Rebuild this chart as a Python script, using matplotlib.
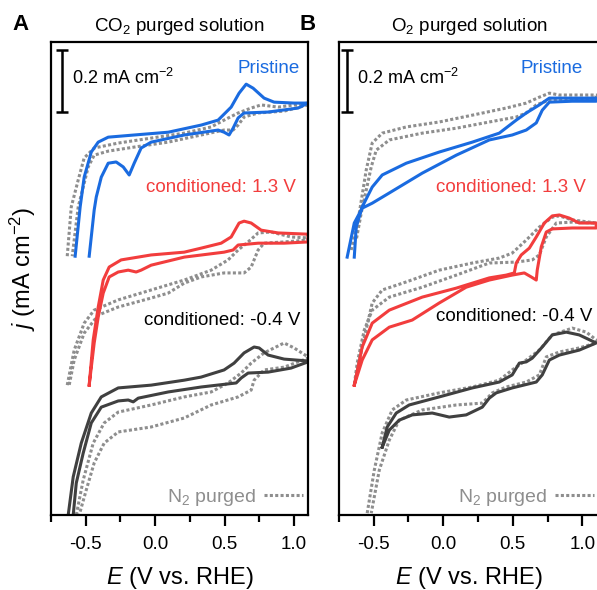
import matplotlib
matplotlib.use('Agg')
import matplotlib.pyplot as plt
from matplotlib.lines import Line2D

plt.rcParams['font.family'] = ['Liberation Sans', 'DejaVu Sans']
plt.rcParams['mathtext.fontset'] = 'custom'
plt.rcParams['mathtext.rm'] = 'Liberation Sans'
plt.rcParams['mathtext.it'] = 'Liberation Sans:italic'
plt.rcParams['axes.unicode_minus'] = False

# CV loops, potential E (V vs. RHE) and stacked current j (mA cm-2)
# panel A: CO2 purged
a_pristine_E = [-0.576, -0.540, -0.511, -0.460, -0.410, -0.338, -0.151, 0.094, 0.331, 0.453, 0.547, 0.604, 0.655, 0.705, 0.784, 0.856, 1.0, 1.1,
                1.1, 1.029, 0.813, 0.640, 0.597, 0.561, 0.532, 0.496, 0.453, 0.209, -0.029, -0.101, -0.151, -0.187, -0.230, -0.281, -0.338, -0.388, -0.424, -0.439, -0.475]
a_pristine_j = [0.835, 0.994, 1.090, 1.171, 1.203, 1.219, 1.226, 1.235, 1.258, 1.274, 1.316, 1.361, 1.390, 1.377, 1.345, 1.332, 1.329, 1.329,
                1.329, 1.313, 1.300, 1.297, 1.281, 1.248, 1.226, 1.235, 1.242, 1.226, 1.203, 1.184, 1.135, 1.097, 1.123, 1.139, 1.135, 1.090, 1.026, 0.984, 0.835]
a_pristine_n2_E = [-0.633, -0.604, -0.554, -0.511, -0.439, -0.266, -0.029, 0.209, 0.403, 0.496, 0.597, 0.691, 0.763, 0.885, 1.1,
                   1.1, 0.928, 0.741, 0.640, 0.597, 0.561, 0.496, 0.331, 0.094, -0.151, -0.338, -0.439, -0.482, -0.518, -0.554, -0.597]
a_pristine_n2_j = [0.835, 0.994, 1.081, 1.152, 1.184, 1.200, 1.216, 1.232, 1.252, 1.274, 1.297, 1.313, 1.323, 1.316, 1.329,
                   1.323, 1.303, 1.297, 1.284, 1.258, 1.242, 1.242, 1.226, 1.203, 1.187, 1.174, 1.161, 1.123, 1.058, 0.994, 0.835]

a_ox_E = [-0.475, -0.446, -0.410, -0.374, -0.331, -0.245, -0.029, 0.209, 0.331, 0.475, 0.547, 0.604, 0.640, 0.691, 0.763, 0.885, 1.1,
          1.1, 0.928, 0.741, 0.597, 0.561, 0.496, 0.209, -0.029, -0.101, -0.137, -0.194, -0.266, -0.331, -0.374, -0.410, -0.439, -0.475]
a_ox_j = [0.419, 0.565, 0.671, 0.758, 0.800, 0.823, 0.839, 0.848, 0.861, 0.877, 0.897, 0.942, 0.948, 0.942, 0.919, 0.910, 0.906,
          0.881, 0.877, 0.877, 0.871, 0.855, 0.848, 0.832, 0.806, 0.790, 0.784, 0.790, 0.784, 0.768, 0.716, 0.639, 0.555, 0.419]
a_ox_n2_E = [-0.633, -0.583, -0.511, -0.439, -0.266, -0.029, 0.209, 0.403, 0.525, 0.597, 0.669, 0.741, 0.835, 0.978, 1.1,
             1.1, 0.928, 0.784, 0.741, 0.691, 0.640, 0.496, 0.331, 0.209, 0.094, -0.029, -0.266, -0.410, -0.511, -0.583, -0.619]
a_ox_n2_j = [0.419, 0.532, 0.619, 0.661, 0.694, 0.726, 0.758, 0.790, 0.823, 0.855, 0.881, 0.910, 0.913, 0.897, 0.894,
             0.887, 0.881, 0.877, 0.855, 0.800, 0.781, 0.781, 0.768, 0.748, 0.716, 0.700, 0.671, 0.645, 0.587, 0.500, 0.419]

a_red_E = [-0.626, -0.590, -0.532, -0.460, -0.388, -0.266, -0.029, 0.209, 0.331, 0.496, 0.568, 0.640, 0.712, 0.748, 0.813, 0.928, 1.1,
           1.1, 0.978, 0.813, 0.669, 0.619, 0.583, 0.331, 0.094, -0.122, -0.158, -0.194, -0.266, -0.388, -0.460, -0.518, -0.568, -0.590]
a_red_j = [0.0, 0.123, 0.232, 0.329, 0.381, 0.410, 0.419, 0.435, 0.445, 0.468, 0.490, 0.523, 0.542, 0.539, 0.516, 0.503, 0.497,
           0.494, 0.474, 0.461, 0.458, 0.442, 0.426, 0.413, 0.397, 0.377, 0.365, 0.371, 0.368, 0.348, 0.297, 0.200, 0.103, 0.0]
a_red_n2_E = [-0.568, -0.518, -0.446, -0.367, -0.266, -0.029, 0.209, 0.403, 0.525, 0.619, 0.691, 0.784, 0.928, 1.0, 1.1,
              1.1, 0.928, 0.784, 0.712, 0.691, 0.597, 0.403, 0.209, -0.029, -0.266, -0.367, -0.439, -0.496, -0.547]
a_red_n2_j = [0.0, 0.113, 0.232, 0.297, 0.332, 0.355, 0.381, 0.397, 0.426, 0.458, 0.490, 0.523, 0.555, 0.539, 0.510,
              0.506, 0.477, 0.468, 0.435, 0.403, 0.381, 0.355, 0.313, 0.284, 0.268, 0.232, 0.168, 0.081, 0.0]

# panel B: O2 purged
b_pristine_E = [-0.640, -0.626, -0.583, -0.511, -0.439, -0.266, -0.029, 0.209, 0.403, 0.525, 0.597, 0.691, 0.763, 0.928, 1.1,
                1.1, 0.928, 0.763, 0.712, 0.669, 0.597, 0.496, 0.331, 0.094, -0.151, -0.388, -0.511, -0.583, -0.640, -0.691]
b_pristine_j = [0.832, 0.929, 0.994, 1.058, 1.097, 1.135, 1.171, 1.203, 1.232, 1.274, 1.297, 1.323, 1.345, 1.345, 1.345,
                1.335, 1.335, 1.332, 1.306, 1.265, 1.242, 1.226, 1.210, 1.161, 1.103, 1.039, 1.006, 0.990, 0.942, 0.832]
b_pristine_n2_E = [-0.662, -0.604, -0.554, -0.511, -0.439, -0.266, -0.029, 0.209, 0.453, 0.597, 0.691, 0.763, 0.835, 1.1,
                   1.1, 0.928, 0.763, 0.669, 0.597, 0.525, 0.331, 0.094, -0.151, -0.388, -0.482, -0.518, -0.554, -0.590, -0.626]
b_pristine_n2_j = [0.855, 0.974, 1.113, 1.200, 1.232, 1.252, 1.268, 1.290, 1.313, 1.329, 1.348, 1.361, 1.355, 1.355,
                   1.345, 1.342, 1.339, 1.323, 1.297, 1.284, 1.268, 1.248, 1.232, 1.210, 1.177, 1.123, 1.048, 0.974, 0.887]

b_ox_E = [-0.640, -0.583, -0.511, -0.388, -0.151, 0.094, 0.209, 0.331, 0.453, 0.511, 0.525, 0.561, 0.619, 0.669, 0.727, 0.784, 0.835, 0.906, 0.978, 1.1,
          1.1, 0.928, 0.784, 0.741, 0.705, 0.676, 0.669, 0.633, 0.583, 0.496, 0.331, 0.165, -0.029, -0.223, -0.388, -0.511, -0.583, -0.640]
b_ox_j = [0.419, 0.542, 0.619, 0.661, 0.703, 0.732, 0.748, 0.765, 0.774, 0.781, 0.813, 0.839, 0.861, 0.897, 0.942, 0.965, 0.968, 0.958, 0.942, 0.942,
          0.926, 0.926, 0.923, 0.913, 0.865, 0.790, 0.758, 0.768, 0.781, 0.774, 0.758, 0.735, 0.684, 0.629, 0.606, 0.565, 0.500, 0.419]
b_ox_n2_E = [-0.640, -0.583, -0.511, -0.439, -0.266, -0.029, 0.209, 0.403, 0.496, 0.597, 0.691, 0.784, 0.835, 0.928, 1.1,
             1.1, 0.928, 0.813, 0.741, 0.691, 0.640, 0.525, 0.331, 0.094, -0.151, -0.388, -0.511, -0.568, -0.619, -0.640]
b_ox_n2_j = [0.419, 0.542, 0.684, 0.726, 0.752, 0.790, 0.813, 0.829, 0.845, 0.887, 0.929, 0.961, 0.965, 0.952, 0.942,
             0.942, 0.945, 0.942, 0.897, 0.839, 0.823, 0.816, 0.813, 0.774, 0.735, 0.703, 0.661, 0.597, 0.490, 0.419]

b_red_E = [-0.439, -0.403, -0.338, -0.245, -0.029, 0.209, 0.403, 0.496, 0.547, 0.597, 0.640, 0.712, 0.784, 0.885, 0.978, 1.1,
           1.1, 0.978, 0.835, 0.763, 0.712, 0.669, 0.496, 0.381, 0.331, 0.281, 0.165, 0.043, -0.079, -0.223, -0.317, -0.388, -0.439]
b_red_j = [0.219, 0.284, 0.329, 0.355, 0.381, 0.410, 0.429, 0.452, 0.490, 0.494, 0.506, 0.542, 0.581, 0.590, 0.581, 0.555,
           0.555, 0.532, 0.516, 0.500, 0.452, 0.429, 0.410, 0.394, 0.377, 0.348, 0.323, 0.316, 0.329, 0.323, 0.306, 0.274, 0.219]
b_red_n2_E = [-0.547, -0.496, -0.439, -0.367, -0.266, -0.029, 0.209, 0.403, 0.496, 0.597, 0.691, 0.784, 0.928, 1.029, 1.1,
              1.1, 0.978, 0.835, 0.741, 0.691, 0.597, 0.453, 0.353, 0.281, 0.094, -0.151, -0.317, -0.388, -0.460, -0.518]
b_red_n2_j = [0.006, 0.145, 0.265, 0.339, 0.371, 0.394, 0.413, 0.435, 0.468, 0.500, 0.532, 0.581, 0.603, 0.590, 0.565,
              0.555, 0.539, 0.526, 0.510, 0.452, 0.429, 0.413, 0.394, 0.361, 0.355, 0.339, 0.306, 0.242, 0.145, 0.006]

blue = '#1a6be0'
red = '#f23d3d'
dark = '#404040'
grey = '#8e8e8e'
dots = (0, (1.0, 0.75))
fs = 13.5
lw = 2.2

fig = plt.figure(figsize=(5.97, 5.90), dpi=100)
ax_a = fig.add_axes([0.0854, 0.1271, 0.4305, 0.8017])
ax_b = fig.add_axes([0.5678, 0.1271, 0.4355, 0.8017])

panels = [
    (ax_a, 'A', 'CO$_2$ purged solution',
     [(a_pristine_n2_E, a_pristine_n2_j, a_pristine_E, a_pristine_j, blue),
      (a_ox_n2_E, a_ox_n2_j, a_ox_E, a_ox_j, red),
      (a_red_n2_E, a_red_n2_j, a_red_E, a_red_j, dark)],
     (-0.75, 1.1), [(1.043, 1.439), (1.014, 1.058), (1.043, 0.626)], -0.669),
    (ax_b, 'B', 'O$_2$ purged solution',
     [(b_pristine_n2_E, b_pristine_n2_j, b_pristine_E, b_pristine_j, blue),
      (b_ox_n2_E, b_ox_n2_j, b_ox_E, b_ox_j, red),
      (b_red_n2_E, b_red_n2_j, b_red_E, b_red_j, dark)],
     (-0.75, 1.12), [(1.0, 1.439), (1.029, 1.058), (1.072, 0.639)], -0.691),
]

labels = ['Pristine', 'conditioned: 1.3 V', 'conditioned: -0.4 V']
label_colors = [blue, red, 'black']

for ax, letter, title, curves, xlim, label_pos, bar_x in panels:
    for n2_E, n2_j, E, j, color in curves:
        ax.plot(n2_E, n2_j, color=grey, lw=lw, linestyle=dots)
        ax.plot(E, j, color=color, lw=lw, solid_joinstyle='round')

    for text, color, (x, y) in zip(labels, label_colors, label_pos):
        ax.text(x, y, text, color=color, fontsize=fs, ha='right', va='center')

    # 0.2 mA cm-2 scale bar
    ax.errorbar([bar_x], [1.4], yerr=0.1, color='black', elinewidth=1.8,
                capsize=4, capthick=1.8)
    ax.text(bar_x + 0.07, 1.41, '0.2 mA cm$^{-2}$', fontsize=13, va='center')

    n2 = Line2D([], [], color=grey, lw=lw, linestyle=dots)
    leg = ax.legend([n2], ['N$_2$ purged'], loc='lower right', frameon=False,
                    markerfirst=False, fontsize=14, handlelength=2.0,
                    handletextpad=0.4, borderaxespad=0.2,
                    bbox_to_anchor=(1.025, -0.01))
    for t in leg.get_texts():
        t.set_color(grey)

    ax.set_xlim(*xlim)
    ax.set_ylim(0, 1.526)
    ax.set_xticks([-0.5, 0.0, 0.5, 1.0])
    ax.set_xticks([-0.75, -0.25, 0.25, 0.75], minor=True)
    ax.set_yticks([])
    ax.tick_params(axis='x', which='major', direction='out', length=8, width=1.6,
                   labelsize=fs, pad=7)
    ax.tick_params(axis='x', which='minor', direction='out', length=5, width=1.6)
    for s in ax.spines.values():
        s.set_linewidth(1.6)
    ax.set_xlabel('$E$ (V vs. RHE)', fontsize=17, labelpad=9)
    ax.set_title(title, fontsize=fs, pad=8)
    ax.text(-0.15, 1.036, letter, transform=ax.transAxes, fontsize=16,
            fontweight='bold', va='center')

ax_a.set_ylabel('$j$ (mA cm$^{-2}$)', fontsize=17)
ax_a.yaxis.set_label_coords(-0.05, 0.52)

fig.savefig('out.png', dpi=100)
